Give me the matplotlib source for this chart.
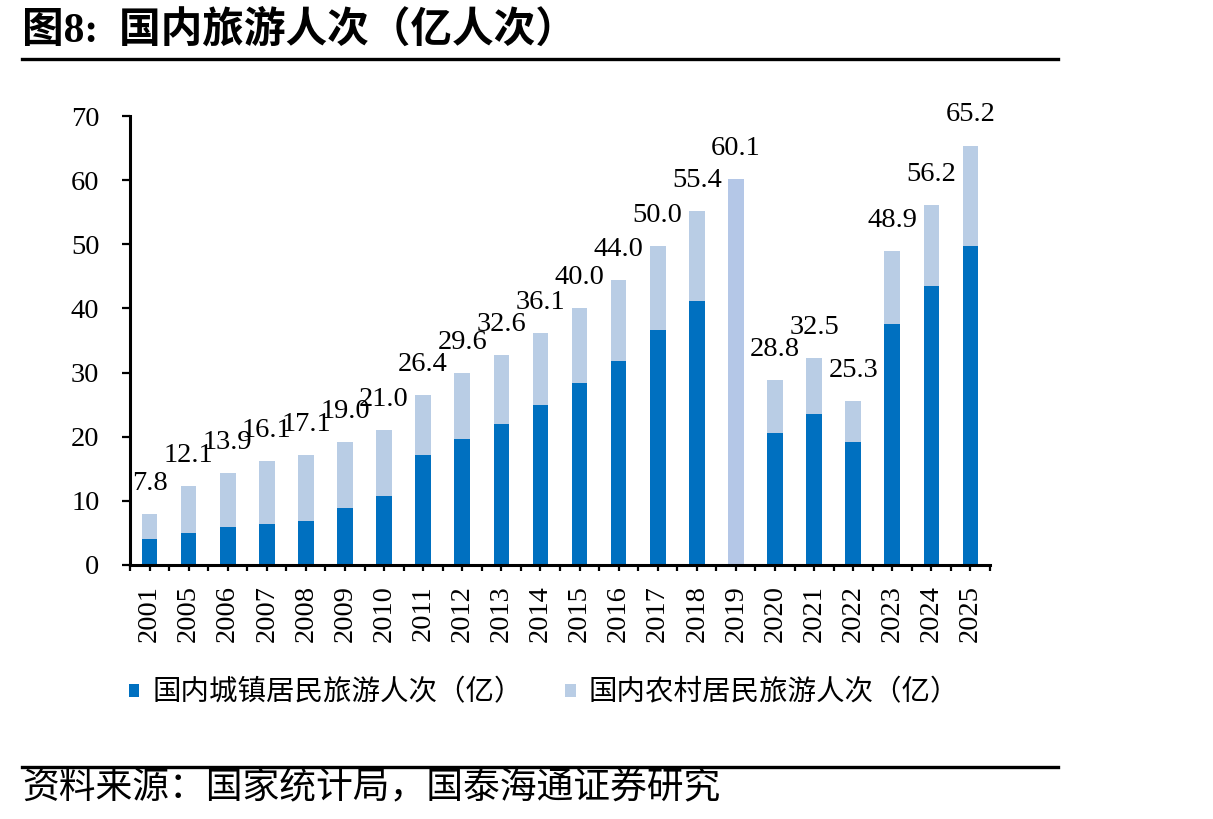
import matplotlib
matplotlib.use("Agg")
import matplotlib.pyplot as plt
from matplotlib.patches import Patch
from matplotlib.lines import Line2D
import numpy as np

plt.rcParams['font.family'] = ['Liberation Serif', 'Noto Sans CJK SC', 'DejaVu Sans']

years = ['2001', '2005', '2006', '2007', '2008', '2009', '2010', '2011', '2012', '2013', '2014',
         '2015', '2016', '2017', '2018', '2019', '2020', '2021', '2022', '2023', '2024', '2025']
urban = [4.0, 5.0, 6.0, 6.4, 6.9, 8.9, 10.8, 17.2, 19.6, 22.0, 24.9,
         28.4, 31.8, 36.6, 41.1, 0.0, 20.6, 23.6, 19.2, 37.6, 43.5, 49.8]
rural = [3.9, 7.3, 8.3, 9.8, 10.3, 10.3, 10.3, 9.3, 10.3, 10.7, 11.3,
         11.7, 12.6, 13.2, 14.1, 60.2, 8.3, 8.7, 6.3, 11.3, 12.6, 15.6]
total_labels = ['7.8', '12.1', '13.9', '16.1', '17.1', '19.0', '21.0', '26.4', '29.6', '32.6', '36.1',
                '40.0', '44.0', '50.0', '55.4', '60.1', '28.8', '32.5', '25.3', '48.9', '56.2', '65.2']
series_names = ['国内城镇居民旅游人次（亿）', '国内农村居民旅游人次（亿）']
title = '图8:  国内旅游人次（亿人次）'
source = '资料来源：国家统计局，国泰海通证券研究'

c_urban = '#0070C0'
c_rural = '#B9CDE5'
c_2019 = '#B4C7E7'

W, H = 1213, 819
fig = plt.figure(figsize=(W / 100, H / 100), dpi=100)
ax = fig.add_axes([130 / W, 1 - 565 / H, (990 - 130) / W, (565 - 116) / H])

x = np.arange(len(years))
rural_colors = [c_2019 if y == '2019' else c_rural for y in years]
ax.bar(x, urban, width=0.4, color=c_urban, zorder=2)
ax.bar(x, rural, width=0.4, bottom=urban, color=rural_colors, zorder=2)

tops = np.array(urban) + np.array(rural)
for xi, t, lab in zip(x, tops, total_labels):
    ax.annotate(lab, (xi, t), xytext=(0, 22), textcoords='offset points',
                ha='center', va='center', fontsize=20.5, color='black',
                annotation_clip=False)

ax.set_xlim(-0.5, len(years) - 0.5)
ax.set_ylim(0, 70)
ax.set_yticks(range(0, 71, 10))
ax.set_xticks(x)
ax.set_xticklabels(years, rotation=90)
ax.set_xticks(np.arange(-0.5, len(years), 1.0), minor=True)

for s in ['top', 'right']:
    ax.spines[s].set_visible(False)
for s in ['left', 'bottom']:
    ax.spines[s].set_linewidth(2.2)
    ax.spines[s].set_color('black')

ax.tick_params(axis='y', direction='out', length=6, width=1.6, pad=16, labelsize=20.5)
ax.tick_params(axis='x', which='both', direction='out', length=4.5, width=1.6, pad=10, labelsize=20.5)

# Legend
handles = [Patch(facecolor=c_urban, edgecolor='none'), Patch(facecolor=c_rural, edgecolor='none')]
fig.legend(handles, series_names, loc='center left', bbox_to_anchor=(129 / W, 1 - 693 / H),
           ncol=2, frameon=False, fontsize=20.5, handlelength=0.36, handleheight=0.36,
           handletextpad=0.45, columnspacing=1.5, borderpad=0, borderaxespad=0)

# Title and rules
fig.text(22 / W, 1 - 30 / H, title, fontsize=30, fontweight='bold', ha='left', va='center')
fig.add_artist(Line2D([22 / W, 1058 / W], [1 - 59 / H, 1 - 59 / H], color='black', linewidth=2.4))
fig.add_artist(Line2D([22 / W, 1058 / W], [1 - 767 / H, 1 - 767 / H], color='black', linewidth=2.4))
fig.text(22 / W, 1 - 788 / H, source, fontsize=26.5, ha='left', va='center')

fig.savefig('out.png', dpi=100)
